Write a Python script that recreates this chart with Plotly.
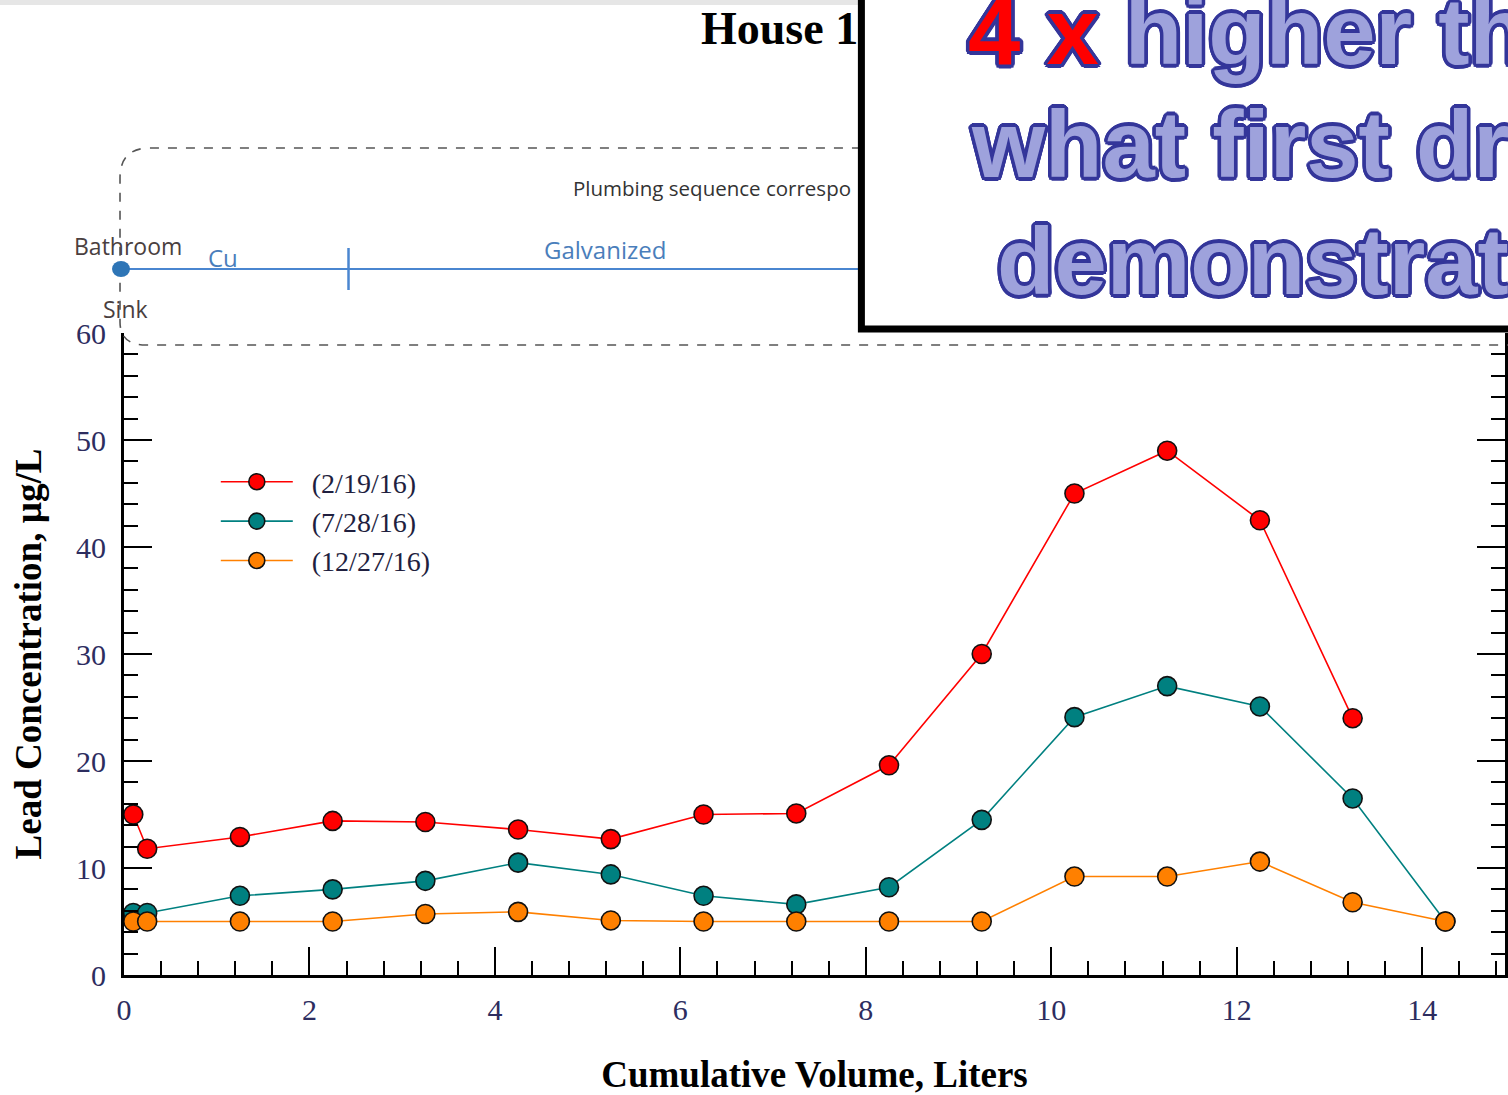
import math
import plotly.graph_objects as go

# ---------------- data ----------------
volume = [0.1, 0.25, 1.25, 2.25, 3.25, 4.25, 5.25, 6.25, 7.25, 8.25, 9.25, 10.25, 11.25, 12.25, 13.25, 14.25]
lead_feb = [15.0, 11.8, 12.9, 14.4, 14.3, 13.6, 12.7, 15.0, 15.1, 19.6, 30.0, 45.0, 49.0, 42.5, 24.0, None]
lead_jul = [5.8, 5.8, 7.4, 8.0, 8.8, 10.5, 9.4, 7.4, 6.6, 8.2, 14.5, 24.1, 27.0, 25.1, 16.5, 5.0]
lead_dec = [5.0, 5.0, 5.0, 5.0, 5.7, 5.9, 5.1, 5.0, 5.0, 5.0, 5.0, 9.2, 9.2, 10.6, 6.8, 5.0]
series_names = ["(2/19/16)", "(7/28/16)", "(12/27/16)"]
series_colors = ["#ff0000", "#008080", "#ff8000"]
x_ticks = [0, 2, 4, 6, 8, 10, 12, 14]
y_ticks = [0, 10, 20, 30, 40, 50, 60]

# ---------------- layout geometry (reference pixels) ----------------
W, H = 1508, 1095
L, R, T, B = 124, 1508, 333, 975
X_MAX = (R - L) / ((1425 - 124) / 14.0)


def px(x):
    return (x - L) / (R - L)


def py(y):
    return (B - y) / (B - T)


fig = go.Figure()
for name, vals, col in zip(series_names, [lead_feb, lead_jul, lead_dec], series_colors):
    fig.add_trace(go.Scatter(
        x=volume, y=vals, name="\u00a0\u00a0" + name, mode="lines+markers",
        line=dict(color=col, width=1.6),
        marker=dict(size=19, color=col, line=dict(color="#111111", width=1.6)),
        cliponaxis=False, connectgaps=False,
    ))

serif = "Liberation Serif, Times New Roman, serif"
navy = "#2d2d5f"

axis_common = dict(
    showgrid=False, zeroline=False, showline=True, linecolor="black", linewidth=3,
    ticks="inside", ticklen=28, tickwidth=2, tickcolor="black",
    tickfont=dict(family=serif, size=30, color=navy),
)
fig.update_xaxes(
    range=[0, X_MAX], tickvals=x_ticks, ticklabelstandoff=6,
    minor=dict(dtick=0.4, tick0=0, ticks="inside", ticklen=14, tickwidth=2, tickcolor="black"),
    title=dict(text="Cumulative Volume, Liters", font=dict(family=serif, size=37, color="black", weight="bold"),
               standoff=40),
    **axis_common,
)
fig.update_yaxes(
    range=[0, 60], tickvals=y_ticks, mirror="ticks", ticklabelstandoff=9,
    minor=dict(dtick=2, tick0=0, ticks="inside", ticklen=14, tickwidth=2, tickcolor="black"),
    title=dict(text="Lead Concentration, µg/L", font=dict(family=serif, size=37, color="black", weight="bold"),
               standoff=24),
    **axis_common,
)

shapes = []
# light gray band at very top
shapes.append(dict(type="rect", xref="paper", yref="paper", x0=px(-20), x1=px(872), y0=py(-10), y1=py(5),
                   fillcolor="#e6e6e6", line=dict(width=0), layer="above"))
# dashed rounded outline of the plumbing diagram
path = (f"M {px(1530)},{py(148)} L {px(150)},{py(148)} "
        f"Q {px(120)},{py(148)} {px(120)},{py(178)} L {px(120)},{py(322)} "
        f"Q {px(120)},{py(345)} {px(146)},{py(345)} L {px(1530)},{py(345)}")
shapes.append(dict(type="path", xref="paper", yref="paper", path=path,
                   line=dict(color="#555555", width=1.6, dash="dash"), layer="above"))
# blue pipe line
shapes.append(dict(type="line", xref="paper", yref="paper", x0=px(121), x1=px(880), y0=py(269), y1=py(269),
                   line=dict(color="#4a86d0", width=2.2), layer="above"))
shapes.append(dict(type="line", xref="paper", yref="paper", x0=px(349), x1=px(349), y0=py(248), y1=py(290),
                   line=dict(color="#4a86d0", width=2.5), layer="above"))
shapes.append(dict(type="circle", xref="paper", yref="paper", x0=px(112), x1=px(130), y0=py(261), y1=py(277),
                   fillcolor="#2e75b6", line=dict(width=0), layer="above"))
# callout box
shapes.append(dict(type="rect", xref="paper", yref="paper", x0=px(863), x1=px(1540), y0=py(329), y1=py(-20),
                   fillcolor="white", line=dict(color="black", width=7), layer="above"))

annotations = []


def ann(x, y, text, size, color, family, xanchor="left", yanchor="middle", **kw):
    annotations.append(dict(xref="paper", yref="paper", x=px(x), y=py(y), text=text, showarrow=False,
                            xanchor=xanchor, yanchor=yanchor,
                            font=dict(size=size, color=color, family=family, **kw)))


sans = "Open Sans, Lato, sans-serif"
ann(700, 28, "House 1", 46, "black", serif, weight="bold")
ann(572, 188, "Plumbing sequence correspo", 20.5, "#333333", sans)
ann(72, 246, "Bathroom", 23, "#4a3f3f", sans)
ann(101, 309, "Sink", 23, "#4a3f3f", sans)
ann(206, 258, "Cu", 24, "#4a7ebb", sans)
ann(543, 250, "Galvanized", 24, "#4a7ebb", sans)

offs = []
for k in range(16):
    a = 2 * math.pi * k / 16
    offs.append(f"{3.6 * math.cos(a):.1f}px {3.6 * math.sin(a):.1f}px 0 #34369a")
outline = ", ".join(offs)
big = "Liberation Sans, Arial, sans-serif"
fill = "#9ea2dc"
ann(968, 31, '<span style="color:#ff0000">4 x</span> higher th', 94, fill, big, weight="bold", shadow=outline)
ann(971, 145, "what first dr", 94, fill, big, weight="bold", shadow=outline)
ann(997, 261, "demonstrat", 94, fill, big, weight="bold", shadow=outline)

fig.update_layout(
    width=W, height=H, autosize=False,
    margin=dict(l=L, r=W - R, t=T, b=H - B, pad=0),
    paper_bgcolor="white", plot_bgcolor="white",
    shapes=shapes, annotations=annotations,
    showlegend=True,
    legend=dict(x=px(216), y=py(457), xanchor="left", yanchor="top",
                font=dict(family=serif, size=28, color="#1f1f3f"),
                bgcolor="rgba(0,0,0,0)", tracegroupgap=0, itemwidth=72),
)

fig.write_html(
    "out.html",
    config={"displayModeBar": False},
    post_script="document.body.style.margin='0';document.documentElement.style.overflow='hidden';",
)
